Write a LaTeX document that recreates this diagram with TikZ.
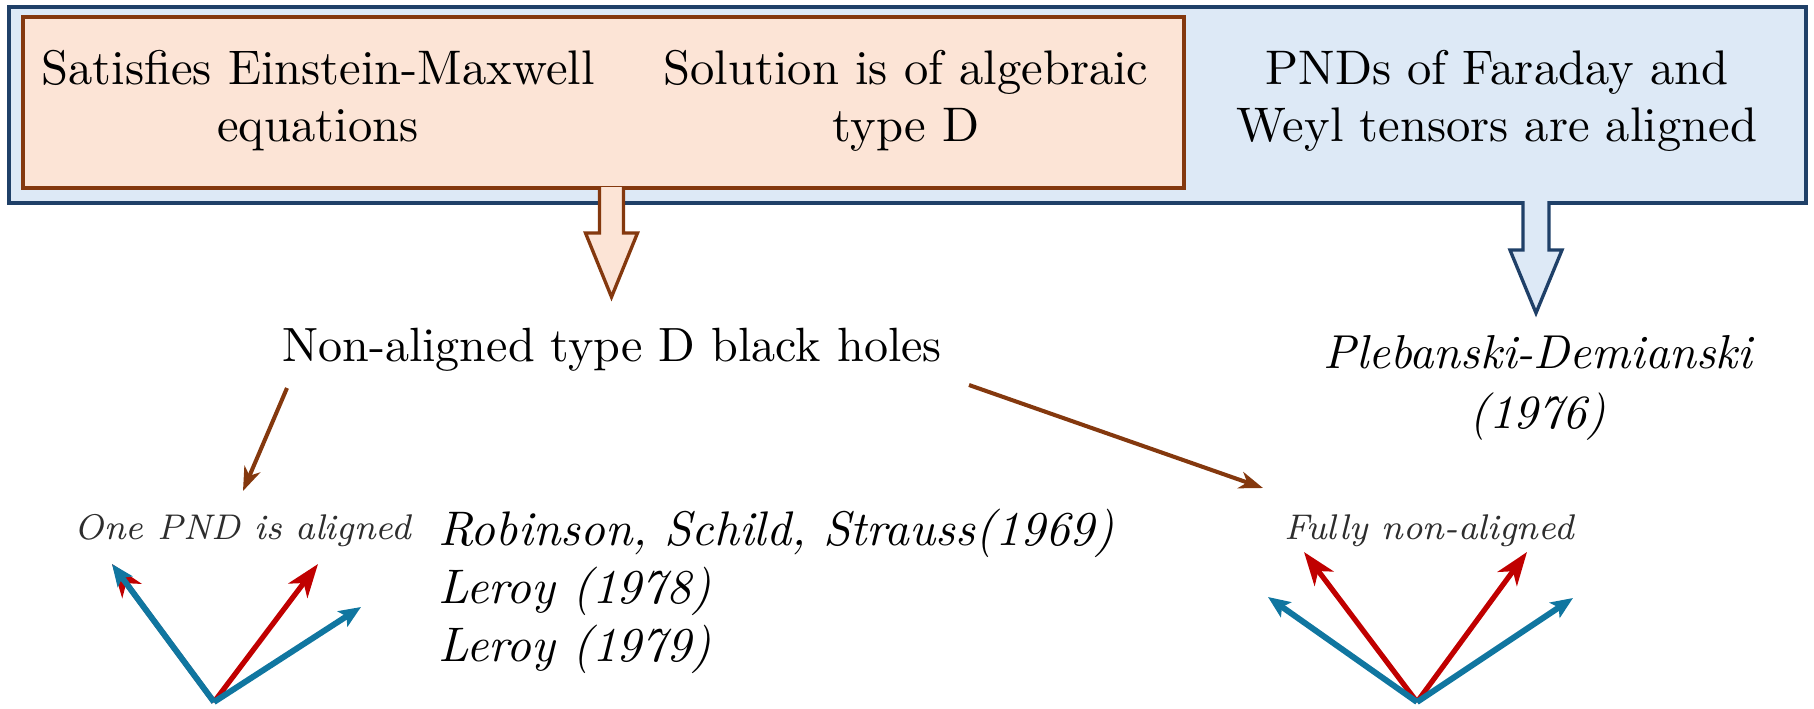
\documentclass[tikz,border=0pt]{standalone}
\usetikzlibrary{arrows.meta}
\definecolor{navy}{RGB}{31,64,104}
\definecolor{skyfill}{RGB}{221,233,246}
\definecolor{rust}{RGB}{132,56,14}
\definecolor{peach}{RGB}{252,228,214}
\definecolor{pndred}{RGB}{192,0,0}
\definecolor{pndblue}{RGB}{16,118,160}
\definecolor{labelgray}{RGB}{45,45,45}
\begin{document}
\begin{tikzpicture}[x=0.21pt,y=-0.21pt,
  every node/.style={inner sep=0pt, outer sep=0pt},
  outerbox/.style={draw=navy, fill=skyfill, line width=0.75pt},
  innerbox/.style={draw=rust, fill=peach, line width=0.7pt},
  maintext/.style={align=center, font=\fontsize{10.2}{11.9}\selectfont, anchor=base},
  reftext/.style={font=\fontsize{10.2}{12.1}\selectfont\itshape},
  caselabel/.style={font=\fontsize{7.5}{9}\selectfont\itshape, text=labelgray, anchor=base},
  rustblock/.style={draw=rust, fill=peach, line width=0.7pt, line join=miter},
  navyblock/.style={draw=navy, fill=skyfill, line width=0.7pt, line join=miter},
  implies/.style={draw=rust, line width=0.85pt,
    -{Stealth[length=5pt, width=3.6pt, inset=1.5pt]}},
  redvec/.style={draw=pndred, line width=1.1pt,
    -{Stealth[length=7pt, width=5pt, inset=2pt]}},
  bluevec/.style={draw=pndblue, line width=1.25pt,
    -{Stealth[length=4.6pt, width=3.8pt, inset=1pt]}}
]
\useasboundingbox (0,0) rectangle (1814,708);

% conditions panel
\node[outerbox, minimum width=377.4pt, minimum height=41.2pt] (conds) at (907.5,105) {};
\node[innerbox, minimum width=243.8pt, minimum height=35.9pt] (emcond) at (603.5,102.5) {};

% multi-line nodes sit on the baseline of their last line
\node[maintext] (einstein) at (318,141) {Satisfies Einstein-Maxwell\\equations};
\node[maintext] (typed) at (906,141) {Solution is of algebraic\\type D};
\node[maintext] (pnds) at (1497,141) {PNDs of Faraday and\\Weyl tensors are aligned};

% block arrows leaving the panel
\coordinate (ea) at (611.5,187);
\coordinate (eb) at (1536,201);
\path[rustblock] (ea) +(-12,0) -- +(-12,46) -- +(-26,46) -- +(0,110) -- +(26,46) -- +(12,46) -- +(12,0);
\path[navyblock] (eb) +(-13,0) -- +(-13,49) -- +(-26,49) -- +(0,112) -- +(26,49) -- +(13,49) -- +(13,0);

% outcomes
\node[maintext, font=\fontsize{10.1}{12}\selectfont] (nonaligned) at (612,361) {Non-aligned type D black holes};
\node[maintext, font=\fontsize{10}{12.6}\selectfont\itshape] (pleb) at (1538,428) {Plebanski-Demianski\\(1976)};
\node[reftext, align=left, anchor=base west] (refs) at (438,661)
  {Robinson, Schild, Strauss(1969)\\Leroy (1978)\\Leroy (1979)};

\node[caselabel] (onepnd) at (243,539) {One PND is aligned};
\node[caselabel] (fully) at (1429,539) {Fully non-aligned};

\coordinate (na1) at (287,388);
\coordinate (na2) at (969,385);
\coordinate (op) at (243,491);
\coordinate (fn) at (1263,488);
\draw[implies] (na1) -- (op);
\draw[implies] (na2) -- (fn);

% null directions: one aligned
\coordinate (oL) at (214,702);
\coordinate (rL1) at (112,564);
\coordinate (rL2) at (318,564);
\coordinate (bL1) at (112,564);
\coordinate (bL2) at (361,607);
\draw[redvec] (oL) -- (rL1);
\draw[redvec] (oL) -- (rL2);
\draw[bluevec] (oL) -- (bL1);
\draw[bluevec] (oL) -- (bL2);

% null directions: fully non-aligned
\coordinate (oR) at (1417,702);
\coordinate (rR1) at (1304,552);
\coordinate (rR2) at (1527,552);
\coordinate (bR1) at (1268,597);
\coordinate (bR2) at (1573,598);
\draw[redvec] (oR) -- (rR1);
\draw[redvec] (oR) -- (rR2);
\draw[bluevec] (oR) -- (bR1);
\draw[bluevec] (oR) -- (bR2);
\end{tikzpicture}
\end{document}
